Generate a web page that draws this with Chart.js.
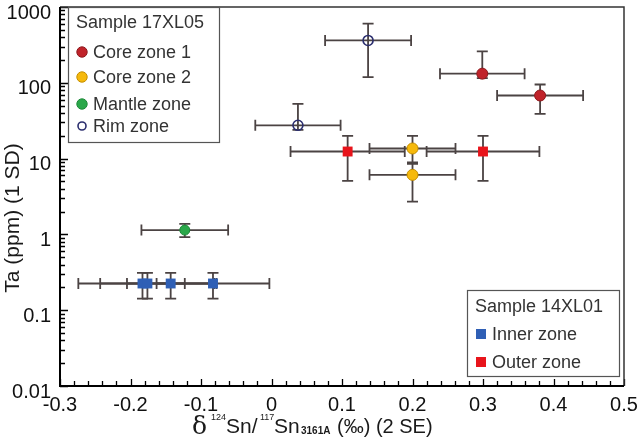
<!DOCTYPE html>
<html><head><meta charset="utf-8">
<script src="https://cdn.jsdelivr.net/npm/chart.js@4"></script>
<style>html,body{margin:0;padding:0;background:#fff}canvas{display:block}</style>
</head><body>
<canvas id="c" width="640" height="437"></canvas>
<script>
// ---- Sample 17XL05 ----
const coreZone1X = [0.299, 0.381];
const coreZone1Y = [132, 68];
const coreZone1XErr = [0.060, 0.061];
const coreZone1YLow = [115, 39];
const coreZone1YHigh = [260, 95];

const coreZone2X = [0.200, 0.200];
const coreZone2Y = [13.6, 6.1];
const coreZone2XErr = [0.061, 0.061];
const coreZone2YLow = [8.5, 2.7];
const coreZone2YHigh = [19.9, 8.9];

const mantleZoneX = [-0.123];
const mantleZoneY = [1.14];
const mantleZoneXErr = [0.0615];
const mantleZoneYLow = [0.92];
const mantleZoneYHigh = [1.38];

const rimZoneX = [0.137, 0.0375];
const rimZoneY = [362, 27.5];
const rimZoneXErr = [0.061, 0.0605];
const rimZoneYLow = [119, 24];
const rimZoneYHigh = [605, 52.8];

// ---- Sample 14XL01 ----
const innerZoneX = [-0.183, -0.176, -0.143, -0.083];
const innerZoneY = [0.225, 0.225, 0.225, 0.225];
const innerZoneXErr = [0.060, 0.098, 0.062, 0.080];
const innerZoneYLow = [0.142, 0.142, 0.142, 0.142];
const innerZoneYHigh = [0.31, 0.31, 0.31, 0.31];

const outerZoneX = [0.108, 0.300];
const outerZoneY = [12.4, 12.4];
const outerZoneXErr = [0.081, 0.080];
const outerZoneYLow = [5.07, 5.07];
const outerZoneYHigh = [19.9, 19.9];

// ---- Axes ----
const xTickValues = [-0.3, -0.2, -0.1, 0, 0.1, 0.2, 0.3, 0.4, 0.5];
const xTickLabels = ['-0.3', '-0.2', '-0.1', '0', '0.1', '0.2', '0.3', '0.4', '0.5'];
const yTickValues = [0.01, 0.1, 1, 10, 100, 1000];
const yTickLabels = ['0.01', '0.1', '1', '10', '100', '1000'];

const legend1Title = 'Sample 17XL05';
const legend2Title = 'Sample 14XL01';
const yTitle = 'Ta (ppm) (1 SD)';

function pts(xs, ys, xe, lo, hi) {
  return xs.map((v, i) => ({ x: v, y: ys[i], xErr: xe[i], yLow: lo[i], yHigh: hi[i] }));
}

const FONT = '"Liberation Sans", Arial, Helvetica, sans-serif';

const datasets = [
  { label: 'Inner zone', data: pts(innerZoneX, innerZoneY, innerZoneXErr, innerZoneYLow, innerZoneYHigh),
    pointStyle: 'rect', pointRadius: 7, backgroundColor: '#2f5fb5', borderColor: '#2f5fb5', borderWidth: 0 },
  { label: 'Outer zone', data: pts(outerZoneX, outerZoneY, outerZoneXErr, outerZoneYLow, outerZoneYHigh),
    pointStyle: 'rect', pointRadius: 7, backgroundColor: '#e8141b', borderColor: '#e8141b', borderWidth: 0 },
  { label: 'Mantle zone', data: pts(mantleZoneX, mantleZoneY, mantleZoneXErr, mantleZoneYLow, mantleZoneYHigh),
    pointStyle: 'circle', pointRadius: 5, backgroundColor: '#2aa84a', borderColor: '#1f8a3a', borderWidth: 1 },
  { label: 'Core zone 2', data: pts(coreZone2X, coreZone2Y, coreZone2XErr, coreZone2YLow, coreZone2YHigh),
    pointStyle: 'circle', pointRadius: 5.5, backgroundColor: '#f6b90c', borderColor: '#c68f00', borderWidth: 1 },
  { label: 'Core zone 1', data: pts(coreZone1X, coreZone1Y, coreZone1XErr, coreZone1YLow, coreZone1YHigh),
    pointStyle: 'circle', pointRadius: 5.5, backgroundColor: '#c0232a', borderColor: '#8e1a1e', borderWidth: 1 },
  { label: 'Rim zone', data: pts(rimZoneX, rimZoneY, rimZoneXErr, rimZoneYLow, rimZoneYHigh),
    pointStyle: 'circle', pointRadius: 5, backgroundColor: 'rgba(255,255,255,0)', borderColor: '#2b2e6e', borderWidth: 1.6 }
];

const bgPlugin = {
  id: 'bg',
  beforeDraw(chart) {
    const c = chart.ctx; c.save(); c.fillStyle = '#fff'; c.fillRect(0, 0, chart.width, chart.height); c.restore();
  }
};

const errPlugin = {
  id: 'errbars',
  beforeDatasetsDraw(chart) {
    const { ctx, scales: { x, y } } = chart;
    const cap = 5.5;
    ctx.save();
    ctx.strokeStyle = '#4b4343';
    ctx.lineWidth = 1.8;
    chart.data.datasets.forEach(ds => ds.data.forEach(p => {
      const px = x.getPixelForValue(p.x), py = y.getPixelForValue(p.y);
      const xl = x.getPixelForValue(p.x - p.xErr), xr = x.getPixelForValue(p.x + p.xErr);
      const yt = y.getPixelForValue(p.yHigh), yb = y.getPixelForValue(p.yLow);
      ctx.beginPath();
      ctx.moveTo(xl, py); ctx.lineTo(xr, py);
      ctx.moveTo(xl, py - cap); ctx.lineTo(xl, py + cap);
      ctx.moveTo(xr, py - cap); ctx.lineTo(xr, py + cap);
      ctx.moveTo(px, yt); ctx.lineTo(px, yb);
      ctx.moveTo(px - cap, yt); ctx.lineTo(px + cap, yt);
      ctx.moveTo(px - cap, yb); ctx.lineTo(px + cap, yb);
      ctx.stroke();
    }));
    ctx.restore();
  }
};

const framePlugin = {
  id: 'frame',
  afterDraw(chart) {
    const { ctx, chartArea: a, scales: { x, y } } = chart;
    ctx.save();
    // ticks pointing inward
    ctx.strokeStyle = '#000';
    ctx.lineWidth = 1.3;
    ctx.beginPath();
    for (let d = -2; d <= 3; d++) {
      const dec = Math.pow(10, d);
      const py = Math.round(y.getPixelForValue(dec)) + 0.5;
      ctx.moveTo(a.left, py); ctx.lineTo(a.left + 8, py);
      if (d < 3) {
        for (let k = 2; k <= 9; k++) {
          const my = Math.round(y.getPixelForValue(k * dec)) + 0.5;
          ctx.moveTo(a.left, my); ctx.lineTo(a.left + 5, my);
        }
      }
    }
    for (let i = 0; i <= 40; i++) {
      const v = -0.3 + i * 0.02;
      const px = Math.round(x.getPixelForValue(v)) + 0.5;
      const len = (i % 5 === 0) ? 7 : 5;
      ctx.moveTo(px, a.bottom); ctx.lineTo(px, a.bottom - len);
    }
    ctx.stroke();
    // top & right borders
    ctx.strokeStyle = '#333';
    ctx.lineWidth = 1.5;
    ctx.beginPath();
    ctx.moveTo(a.left, a.top); ctx.lineTo(a.right, a.top); ctx.lineTo(a.right, a.bottom);
    ctx.stroke();
    // left & bottom axes
    ctx.strokeStyle = '#000';
    ctx.lineWidth = 2;
    ctx.beginPath();
    ctx.moveTo(a.left, a.top); ctx.lineTo(a.left, a.bottom); ctx.lineTo(a.right, a.bottom);
    ctx.stroke();

    // legends
    function drawMarker(ds, cx, cy, r) {
      ctx.save();
      ctx.fillStyle = ds.backgroundColor;
      ctx.strokeStyle = ds.borderColor;
      ctx.lineWidth = ds.borderWidth || 0;
      ctx.beginPath();
      if (ds.pointStyle === 'rect') {
        ctx.rect(cx - r, cy - r, 2 * r, 2 * r);
        ctx.fill();
      } else {
        ctx.arc(cx, cy, r, 0, Math.PI * 2);
        ctx.fill();
        if (ds.borderWidth) ctx.stroke();
      }
      ctx.restore();
    }
    function legendBox(bx, by, bw, bh, title, items, rowYs) {
      ctx.fillStyle = '#fff';
      ctx.fillRect(bx, by, bw, bh);
      ctx.strokeStyle = '#555';
      ctx.lineWidth = 1.2;
      ctx.strokeRect(bx + 0.5, by + 0.5, bw, bh);
      ctx.fillStyle = '#333';
      ctx.font = '18px ' + FONT;
      ctx.textBaseline = 'middle';
      ctx.textAlign = 'left';
      ctx.fillText(title, bx + 8, rowYs[0]);
      items.forEach((ds, i) => {
        const cy = rowYs[i + 1];
        const r = ds.pointStyle === 'rect' ? 5 : (ds.label === 'Rim zone' ? 4 : 5.2);
        drawMarker(ds, bx + 14, cy, r);
        ctx.fillStyle = '#333';
        ctx.font = '18px ' + FONT;
        ctx.fillText(ds.label, bx + 25, cy + 1);
      });
    }
    const dsBy = l => chart.data.datasets.find(d => d.label === l);
    legendBox(68, 7, 151, 135, legend1Title,
      [dsBy('Core zone 1'), dsBy('Core zone 2'), dsBy('Mantle zone'), dsBy('Rim zone')],
      [23, 52, 77, 104, 126]);
    legendBox(467, 290, 152, 86, legend2Title,
      [dsBy('Inner zone'), dsBy('Outer zone')],
      [307, 334, 362]);

    // x axis title (rich text: superscripts / subscript)
    const base = 433;
    const segs = [
      { t: 'δ', f: '25px "DejaVu Serif", "Liberation Serif", serif', x: 192, dy: 1 },
      { t: '124', f: '9px ' + FONT, x: 211, dy: -13 },
      { t: 'Sn/', f: '21px ' + FONT, x: 226, dy: 0 },
      { t: '117', f: '9px ' + FONT, x: 260, dy: -13 },
      { t: 'Sn', f: '21px ' + FONT, x: 274, dy: 0 },
      { t: '3161A', f: 'bold 10px ' + FONT, x: 301, dy: 1 },
      { t: '(‰) (2 SE)', f: '20px ' + FONT, x: 337, dy: 0 }
    ];
    ctx.fillStyle = '#1a1a1a';
    ctx.textBaseline = 'alphabetic';
    ctx.textAlign = 'left';
    segs.forEach(s => {
      ctx.font = s.f;
      ctx.fillText(s.t, s.x, base + s.dy);
    });

    // y axis title
    ctx.save();
    ctx.translate(13, 218);
    ctx.rotate(-Math.PI / 2);
    ctx.font = '21px ' + FONT;
    ctx.fillStyle = '#1a1a1a';
    ctx.textAlign = 'center';
    ctx.textBaseline = 'middle';
    ctx.fillText(yTitle, 0, 0);
    ctx.restore();

    ctx.restore();
  }
};

new Chart(document.getElementById('c'), {
  type: 'scatter',
  data: { datasets },
  options: {
    responsive: false,
    animation: false,
    layout: { padding: { left: 0, right: 16, top: 5, bottom: 0 } },
    plugins: { legend: { display: false }, tooltip: { enabled: false } },
    scales: {
      x: {
        type: 'linear', min: -0.3, max: 0.5,
        grid: { display: false, drawTicks: false },
        border: { display: false },
        afterBuildTicks(s) { s.ticks = xTickValues.map(v => ({ value: v })); },
        afterFit(s) { s.height = 51; s.paddingLeft = 0; s.paddingRight = 0; },
        ticks: {
          autoSkip: false, maxRotation: 0, minRotation: 0, padding: 7,
          color: '#111', font: { family: FONT, size: 20 },
          callback: (v, i) => xTickLabels[i]
        }
      },
      y: {
        type: 'logarithmic', min: 0.01, max: 1000,
        grid: { display: false, drawTicks: false },
        border: { display: false },
        afterBuildTicks(s) { s.ticks = yTickValues.map(v => ({ value: v })); },
        afterFit(s) { s.width = 60; s.paddingTop = 0; s.paddingBottom = 0; },
        ticks: {
          autoSkip: false, padding: 9, labelOffset: 6,
          color: '#111', font: { family: FONT, size: 20 },
          callback: (v, i) => yTickLabels[i]
        }
      }
    }
  },
  plugins: [bgPlugin, errPlugin, framePlugin]
});
</script>
</body></html>
